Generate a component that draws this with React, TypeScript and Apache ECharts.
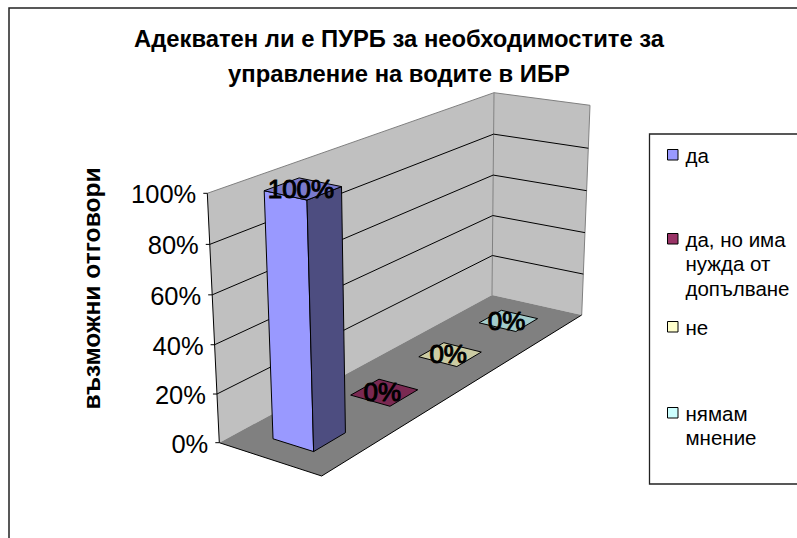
import React, { useEffect, useRef } from "react";
import * as echarts from "echarts";

const titleLines = ["Адекватен ли е ПУРБ за необходимостите за", "управление на водите в ИБР"];
const axisTitle = "възможни отговори";
const seriesNames = ["да", "да, но има\nнужда от\nдопълване", "не", "нямам\nмнение"];
const seriesValues = [1, 0, 0, 0];
const frontColors = ["#9999FF", "#993366", "#FFFFCC", "#CCFFFF"];
const topColors = ["#7A7ACC", "#7A2952", "#CCCCA3", "#A3CCCC"];
const sideColors = ["#4D4D80", "#4D1A33", "#808066", "#668080"];
const yTicks = [0, 0.2, 0.4, 0.6, 0.8, 1];
const legendY = [155, 239, 327, 413];

type P = [number, number];
function homography(p0: P, p1: P, p2: P, p3: P) {
  const dx1 = p1[0] - p2[0], dx2 = p3[0] - p2[0], sx = p0[0] - p1[0] + p2[0] - p3[0];
  const dy1 = p1[1] - p2[1], dy2 = p3[1] - p2[1], sy = p0[1] - p1[1] + p2[1] - p3[1];
  const den = dx1 * dy2 - dx2 * dy1;
  const g = (sx * dy2 - dx2 * sy) / den, h = (dx1 * sy - sx * dy1) / den;
  const a = p1[0] - p0[0] + g * p1[0], b = p3[0] - p0[0] + h * p3[0];
  const d = p1[1] - p0[1] + g * p1[1], e = p3[1] - p0[1] + h * p3[1];
  return (u: number, v: number): P => {
    const w = g * u + h * v + 1;
    return [(a * u + b * v + p0[0]) / w, (d * u + e * v + p0[1]) / w];
  };
}
const floorMap = homography([219.3, 442.7], [492, 295], [581.7, 315], [321.7, 476]);
const topMap = homography([207.3, 193.3], [494, 92.7], [590, 105.3], [315, 218]);
// u: along series direction (0..1), d: depth toward viewer (0..1), t: value fraction (0..1)
const project = (u: number, d: number, t: number): P => {
  const f = floorMap(u, d), c = topMap(u, d);
  const s = t * (1 + 0.03 * (t - 1));
  return [f[0] + (c[0] - f[0]) * s, f[1] + (c[1] - f[1]) * s];
};

const GRID = { left: 219, top: 193, width: 360, height: 250 };
const FONT = "Liberation Sans, Arial, sans-serif";

const poly = (points: P[], fill: string, stroke: string | null, lw = 1) => ({
  type: "polygon",
  shape: { points },
  style: { fill, stroke: stroke ?? "none", lineWidth: lw },
});
const seg = (a: P, b: P, stroke: string, lw = 1) => ({
  type: "line",
  shape: { x1: a[0], y1: a[1], x2: b[0], y2: b[1] },
  style: { stroke, lineWidth: lw, fill: "none" },
});

export default function App() {
  const ref = useRef<HTMLDivElement>(null);
  useEffect(() => {
    const chart = echarts.init(ref.current!, undefined, { renderer: "svg" });
    const fraction = (api: any, v: number) => (GRID.top + GRID.height - api.coord([0, v])[1]) / GRID.height;

    const legendGraphics: any[] = [
      { type: "rect", shape: { x: 649.5, y: 134, width: 160, height: 350 }, style: { fill: "#fff", stroke: "#222", lineWidth: 1.3 } },
    ];
    seriesNames.forEach((name, i) => {
      legendGraphics.push({
        type: "rect",
        shape: { x: 667.5, y: legendY[i] - 5.5, width: 10.5, height: 10.5 },
        style: { fill: frontColors[i], stroke: "#000", lineWidth: 1 },
      });
      legendGraphics.push({
        type: "text",
        x: 685.5,
        y: legendY[i] - 12,
        style: { text: name, font: `20.5px ${FONT}`, fill: "#000", lineHeight: 24.5, verticalAlign: "top" },
      });
    });

    chart.setOption({
      animation: false,
      backgroundColor: "#fff",
      grid: { ...GRID, show: false },
      xAxis: { type: "category", data: seriesNames, show: false },
      yAxis: { type: "value", min: 0, max: 1, interval: 0.2, show: false },
      graphic: [
        { type: "rect", shape: { x: 9, y: 8, width: 830, height: 600 }, style: { fill: "none", stroke: "#222", lineWidth: 1.5 } },
        { type: "text", x: 399, y: 38, style: { text: titleLines[0], font: `bold 23.8px ${FONT}`, fill: "#000", align: "center", verticalAlign: "middle" } },
        { type: "text", x: 399, y: 73, style: { text: titleLines[1], font: `bold 23.8px ${FONT}`, fill: "#000", align: "center", verticalAlign: "middle" } },
        { type: "text", x: 91, y: 288.5, rotation: Math.PI / 2, style: { text: axisTitle, font: `bold 24.6px ${FONT}`, fill: "#000", align: "center", verticalAlign: "middle" } },
        ...legendGraphics,
      ],
      series: [
        {
          type: "custom",
          coordinateSystem: "cartesian2d",
          silent: true,
          z: 1,
          clip: false,
          data: yTicks.map((v) => [0, v]),
          renderItem: (params: any, api: any) => {
            const v = api.value(1) as number;
            const t = fraction(api, v);
            const children: any[] = [];
            if (params.dataIndex === 0) {
              children.push(poly([project(0, 0, 0), project(0, 0, 1), project(1, 0, 1), project(1, 0, 0)], "#C0C0C0", null));
              children.push(poly([project(1, 0, 0), project(1, 0, 1), project(1, 1, 1), project(1, 1, 0)], "#C0C0C0", null));
              children.push(poly([project(0, 0, 0), project(1, 0, 0), project(1, 1, 0), project(0, 1, 0)], "#808080", null));
              children.push(seg(project(0, 0, 1), project(1, 0, 1), "#808080"));
              children.push(seg(project(1, 0, 1), project(1, 1, 1), "#808080"));
              children.push(seg(project(1, 0, 0), project(1, 0, 1), "#808080"));
              children.push(seg(project(1, 1, 0), project(1, 1, 1), "#808080"));
              children.push(seg(project(0, 0, 0), project(0, 0, 1), "#000"));
              children.push(seg(project(0, 0, 0), project(0, 1, 0), "#000"));
              children.push(seg(project(0, 1, 0), project(1, 1, 0), "#000"));
            }
            const a = project(0, 0, t), b = project(1, 0, t), c = project(1, 1, t);
            if (v > 0 && v < 1) {
              children.push(seg(a, b, "#000"));
              children.push(seg(b, c, "#000"));
            }
            children.push(seg([a[0] - 4, a[1]], a, "#000"));
            children.push({
              type: "text",
              x: a[0] - 11,
              y: a[1] + 1,
              style: { text: `${Math.round(v * 100)}%`, font: `25.5px ${FONT}`, fill: "#000", align: "right", verticalAlign: "middle" },
            });
            return { type: "group", children };
          },
        },
        {
          type: "custom",
          coordinateSystem: "cartesian2d",
          silent: true,
          z: 2,
          clip: false,
          data: seriesValues.map((v, i) => [i, v]).reverse(),
          renderItem: (params: any, api: any) => {
            const i = api.value(0) as number;
            const value = api.value(1) as number;
            const t = fraction(api, value);
            const u0 = (i + 0.3) / 4 - 0.004, u1 = (i + 0.7) / 4 - 0.004, d0 = 0.3, d1 = 0.7;
            const children: any[] = [];
            if (value > 0) {
              children.push(poly([project(u0, d0, 0), project(u0, d0, t), project(u0, d1, t), project(u0, d1, 0)], frontColors[i], "#000"));
              children.push(poly([project(u0, d1, 0), project(u0, d1, t), project(u1, d1, t), project(u1, d1, 0)], sideColors[i], "#000"));
            }
            children.push(poly([project(u0, d0, t), project(u1, d0, t), project(u1, d1, t), project(u0, d1, t)], topColors[i], "#000"));
            const c = project((u0 + u1) / 2, 0.5, t);
            children.push({
              type: "text",
              x: c[0] - 2,
              y: c[1],
              style: { text: `${Math.round(value * 100)}%`, font: `26px ${FONT}`, fill: "#000", stroke: "#000", lineWidth: 1, align: "center", verticalAlign: "middle" },
            });
            return { type: "group", children };
          },
        },
      ],
    });
    return () => chart.dispose();
  }, []);
  return <div ref={ref} style={{ position: "fixed", left: 0, top: 0, width: 797, height: 538 }} />;
}
